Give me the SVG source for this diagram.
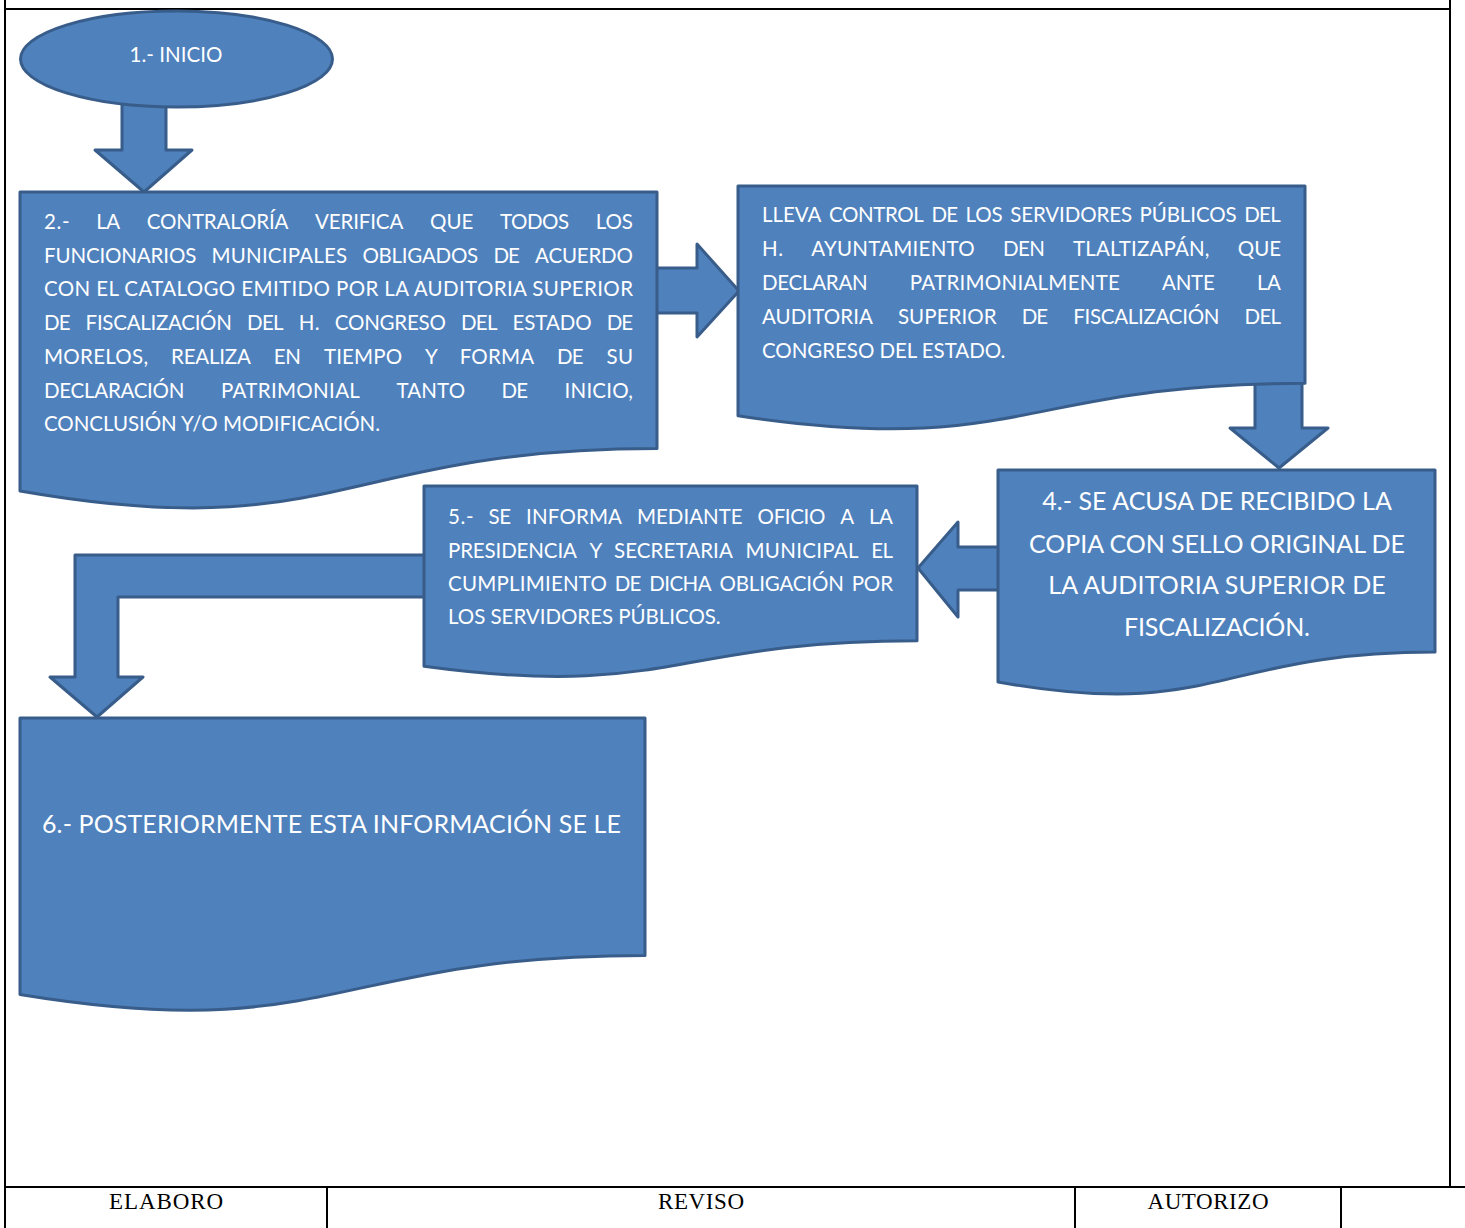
<svg xmlns="http://www.w3.org/2000/svg" width="1465" height="1228" viewBox="0 0 1465 1228">
<style>
.shape{fill:#4F81BD;stroke:#385D8A;stroke-width:3;stroke-linejoin:round}
.frame{stroke:#000;stroke-width:2;fill:none}
.t{fill:#fff;font-family:Lato,"Liberation Sans",sans-serif;font-size:20.5px}
.tb{fill:#fff;font-family:Lato,"Liberation Sans",sans-serif;font-size:25px;text-anchor:middle}
.f{fill:#000;font-family:"Liberation Serif",serif;font-size:23px;text-anchor:middle}
</style>
<rect width="1465" height="1228" fill="#fff"/>
<g id="frame">
<line class="frame" x1="4" y1="9" x2="1451" y2="9"/>
<line class="frame" x1="5" y1="0" x2="5" y2="1228"/>
<line class="frame" x1="1450" y1="0" x2="1450" y2="1187"/>
<line class="frame" x1="4" y1="1187" x2="1465" y2="1187" stroke-width="3"/>
<line class="frame" x1="327" y1="1187" x2="327" y2="1228"/>
<line class="frame" x1="1075" y1="1187" x2="1075" y2="1228"/>
<line class="frame" x1="1341" y1="1187" x2="1341" y2="1228"/>
<text class="f" x="166" y="1209" textLength="114">ELABORO</text>
<text class="f" x="701" y="1209" textLength="86">REVISO</text>
<text class="f" x="1208" y="1209" textLength="121">AUTORIZO</text>
</g>
<g id="connectors">
<path class="shape" d="M122,100 V150 H95 L144,192 L192,150 H166 V100 Z"/>
<path class="shape" d="M650,268 H697 V244 L739,291 L697,337 V313 H650 Z"/>
<path class="shape" d="M1255,378 V428 H1230 L1279,468 L1328,428 H1302 V378 Z"/>
<path class="shape" d="M1005,547 H958 V522 L918,568 L958,617 V590 H1005 Z"/>
<path class="shape" d="M430,555 H75 V677 H50 L97,717 L143,677 H118 V597 H430 Z"/>
</g>
<g id="n1">
<ellipse class="shape" cx="176.5" cy="59" rx="156" ry="48"/>
<text class="t" x="176" y="61.5" text-anchor="middle" textLength="93">1.- INICIO</text>
</g>
<g id="n2">
<path class="shape" d="M20,192 H657 V448.6 C338.5,448.6 338.5,546.4 20,490.9 Z"/>
<text class="t" y="229"><tspan x="44" textLength="25.6">2.-</tspan><tspan x="96.2" textLength="24">LA</tspan><tspan x="146.8" textLength="141.7">CONTRALORÍA</tspan><tspan x="315.1" textLength="88.2">VERIFICA</tspan><tspan x="429.9" textLength="43.5">QUE</tspan><tspan x="500" textLength="69.2">TODOS</tspan><tspan x="595.8" textLength="37">LOS</tspan></text>
<text class="t" y="262.5"><tspan x="44" textLength="152.3">FUNCIONARIOS</tspan><tspan x="211.5" textLength="135.7">MUNICIPALES</tspan><tspan x="362.4" textLength="115.8">OBLIGADOS</tspan><tspan x="493.4" textLength="26.5">DE</tspan><tspan x="535.1" textLength="97.8">ACUERDO</tspan></text>
<text class="t" x="44" y="296" textLength="589">CON EL CATALOGO EMITIDO POR LA AUDITORIA SUPERIOR</text>
<text class="t" y="330"><tspan x="44" textLength="26.5">DE</tspan><tspan x="85.6" textLength="146.3">FISCALIZACIÓN</tspan><tspan x="247" textLength="36.6">DEL</tspan><tspan x="298.7" textLength="21">H.</tspan><tspan x="334.8" textLength="111">CONGRESO</tspan><tspan x="460.9" textLength="36.6">DEL</tspan><tspan x="512.6" textLength="79">ESTADO</tspan><tspan x="606.7" textLength="26.5">DE</tspan></text>
<text class="t" y="364"><tspan x="44" textLength="104.1">MORELOS,</tspan><tspan x="171" textLength="79.9">REALIZA</tspan><tspan x="273.8" textLength="27.2">EN</tspan><tspan x="323.9" textLength="78.3">TIEMPO</tspan><tspan x="425.1" textLength="11.7">Y</tspan><tspan x="459.7" textLength="74.4">FORMA</tspan><tspan x="557" textLength="26.5">DE</tspan><tspan x="606.4" textLength="26.7">SU</tspan></text>
<text class="t" y="398"><tspan x="44" textLength="140.4">DECLARACIÓN</tspan><tspan x="220.9" textLength="139">PATRIMONIAL</tspan><tspan x="396.4" textLength="68.7">TANTO</tspan><tspan x="501.6" textLength="26.5">DE</tspan><tspan x="564.6" textLength="68.3">INICIO,</tspan></text>
<text class="t" x="44" y="431" textLength="336">CONCLUSIÓN Y/O MODIFICACIÓN.</text>
</g>
<g id="n3">
<path class="shape" d="M738,186 H1305 V383.3 C1021.5,383.3 1021.5,458.3 738,415.8 Z"/>
<text class="t" y="222"><tspan x="762" textLength="59.4">LLEVA</tspan><tspan x="829" textLength="94.9">CONTROL</tspan><tspan x="931.5" textLength="26.5">DE</tspan><tspan x="965.6" textLength="37">LOS</tspan><tspan x="1010.2" textLength="121.8">SERVIDORES</tspan><tspan x="1139.6" textLength="97">PÚBLICOS</tspan><tspan x="1244.2" textLength="36.6">DEL</tspan></text>
<text class="t" y="256"><tspan x="762" textLength="21">H.</tspan><tspan x="811.2" textLength="163.5">AYUNTAMIENTO</tspan><tspan x="1002.9" textLength="42">DEN</tspan><tspan x="1073.1" textLength="136.4">TLALTIZAPÁN,</tspan><tspan x="1237.7" textLength="43.5">QUE</tspan></text>
<text class="t" y="290"><tspan x="762" textLength="105.7">DECLARAN</tspan><tspan x="909.8" textLength="210.1">PATRIMONIALMENTE</tspan><tspan x="1162" textLength="52.8">ANTE</tspan><tspan x="1256.9" textLength="24">LA</tspan></text>
<text class="t" y="324"><tspan x="762" textLength="110.9">AUDITORIA</tspan><tspan x="897.9" textLength="98.8">SUPERIOR</tspan><tspan x="1021.7" textLength="26.5">DE</tspan><tspan x="1073.2" textLength="146.3">FISCALIZACIÓN</tspan><tspan x="1244.5" textLength="36.6">DEL</tspan></text>
<text class="t" x="762" y="358" textLength="243.4">CONGRESO DEL ESTADO.</text>
</g>
<g id="n4">
<path class="shape" d="M998,470 H1435 V652.1 C1216.5,652.1 1216.5,721.3 998,682 Z"/>
<text class="tb" x="1217" y="510" textLength="349.7">4.- SE ACUSA DE RECIBIDO LA</text>
<text class="tb" x="1217" y="552.5" textLength="375.8">COPIA CON SELLO ORIGINAL DE</text>
<text class="tb" x="1217" y="594" textLength="337.5">LA AUDITORIA SUPERIOR DE</text>
<text class="tb" x="1217" y="635.5" textLength="185.9">FISCALIZACIÓN.</text>
</g>
<g id="n5">
<path class="shape" d="M424,486 H917 V640.8 C670.5,640.8 670.5,699.7 424,666.3 Z"/>
<text class="t" y="524"><tspan x="448" textLength="25.6">5.-</tspan><tspan x="488.5" textLength="22.7">SE</tspan><tspan x="526.1" textLength="95.9">INFORMA</tspan><tspan x="636.9" textLength="105.8">MEDIANTE</tspan><tspan x="757.6" textLength="67.7">OFICIO</tspan><tspan x="840.2" textLength="13.9">A</tspan><tspan x="869" textLength="24">LA</tspan></text>
<text class="t" y="557.5"><tspan x="448" textLength="128.9">PRESIDENCIA</tspan><tspan x="589.6" textLength="11.7">Y</tspan><tspan x="614" textLength="118.8">SECRETARIA</tspan><tspan x="745.5" textLength="113">MUNICIPAL</tspan><tspan x="871.2" textLength="21.8">EL</tspan></text>
<text class="t" y="591"><tspan x="448" textLength="158.9">CUMPLIMIENTO</tspan><tspan x="614.8" textLength="26.5">DE</tspan><tspan x="649.2" textLength="62.4">DICHA</tspan><tspan x="719.5" textLength="124.3">OBLIGACIÓN</tspan><tspan x="851.7" textLength="41.3">POR</tspan></text>
<text class="t" x="448" y="624" textLength="272.7">LOS SERVIDORES PÚBLICOS.</text>
</g>
<g id="n6">
<path class="shape" d="M20,718 H645 V955.4 C332.5,955.4 332.5,1045.7 20,994.5 Z"/>
<text class="tb" x="331.5" y="832.5" textLength="579">6.- POSTERIORMENTE ESTA INFORMACIÓN SE LE</text>
</g>
</svg>
